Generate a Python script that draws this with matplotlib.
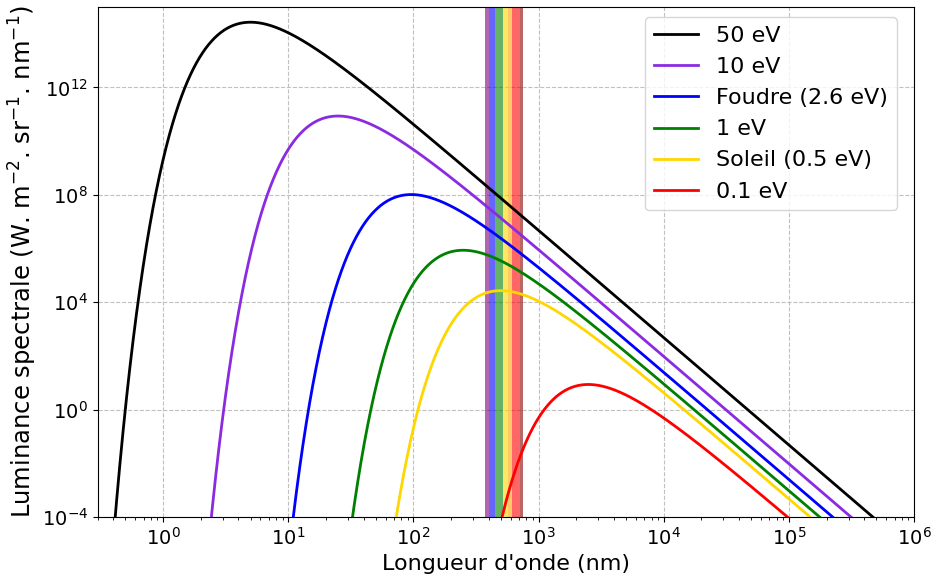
import numpy as np
import matplotlib.pyplot as plt

# temperatures des corps noirs (eV) et legendes
energies_ev = [50, 10, 2.6, 1, 0.5, 0.1]
labels = ["50 eV", "10 eV", "Foudre (2.6 eV)", "1 eV", "Soleil (0.5 eV)", "0.1 eV"]
colors = ["black", "blueviolet", "blue", "green", "gold", "red"]

# bandes du spectre visible (nm)
band_edges = [375, 400, 450, 520, 565, 615, 710, 755]
band_colors = ["purple", "blue", "green", "gold", "orange", "red", "darkred"]

xticks = [1e0, 1e1, 1e2, 1e3, 1e4, 1e5, 1e6]
yticks = [1e-4, 1e0, 1e4, 1e8, 1e12]

h = 6.62607015e-34
c = 2.99792458e8
kB = 1.380649e-23
qe = 1.602176634e-19


def planck_nm(lam_nm, T):
    lam = lam_nm * 1e-9
    x = h * c / (lam * kB * T)
    with np.errstate(over="ignore"):
        B = 2 * h * c**2 / lam**5 / np.expm1(x)
    return B * 1e-9  # par nm


lam_nm = np.logspace(-1, 6.2, 3000)

fig = plt.figure(figsize=(9.47, 5.76), dpi=100)
ax = fig.add_axes([0.1031, 0.1025, 0.8621, 0.8855])

for i in range(len(band_colors)):
    ax.axvspan(band_edges[i], band_edges[i + 1], color=band_colors[i],
               alpha=0.6, lw=0, zorder=1)

for e, lab, col in zip(energies_ev, labels, colors):
    T = e * qe / kB
    ax.plot(lam_nm, planck_nm(lam_nm, T), color=col, lw=2, label=lab, zorder=3)

ax.set_xscale("log")
ax.set_yscale("log")
ax.set_xlim(0.3, 1e6)
ax.set_ylim(1e-4, 1e15)
ax.set_xticks(xticks)
ax.set_yticks(yticks)
ax.yaxis.set_minor_locator(plt.NullLocator())
ax.tick_params(labelsize=14)
ax.grid(True, which="major", ls="--", color="#c0c0c0", lw=0.8, zorder=0)
ax.set_axisbelow(True)

ax.set_xlabel("Longueur d'onde (nm)", fontsize=16)
ax.set_ylabel(r"Luminance spectrale (W. m$^{-2}$. sr$^{-1}$. nm$^{-1}$)",
              fontsize=17.5, labelpad=2)
ax.legend(loc="upper right", fontsize=16, borderaxespad=0,
          bbox_to_anchor=(0.979, 0.980))

fig.savefig("out.png", dpi=100)
